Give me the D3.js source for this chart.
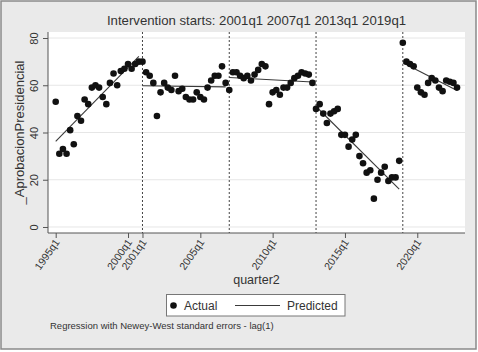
<!DOCTYPE html>
<html><head><meta charset="utf-8">
<script src="https://cdn.jsdelivr.net/npm/d3@7"></script>
<style>html,body{margin:0;padding:0;background:#fff;}svg{display:block;font-family:"Liberation Sans",Arial,sans-serif;}</style>
</head><body><svg id="c" width="478" height="352"></svg>
<script>
// ---- data ----
const firstYear = 1995; // first quarter = 1995q1
const actualSeg1 = [53,31,33,31,41,35,47,45,54,52,59,60,59,55,52,61,65,60,66,67,69,67,69,70];
const actualSeg2 = [70,65.5,64,61,47,57,61,59,58,64,57.5,58.5,55,54,54,57,55,54,59,62,64,64,68,61];
const actualSeg3 = [58,65.5,65.5,64,63,64,62,64.5,66.5,69,68,52,57,58,56,59,59,61,63,64,65.5,65,64.5,61];
const actualSeg4 = [50,52,48,44,48,49,50,39,39,34,37,39,30,27,23,24,12,20,23,25.5,19.5,21,21,28];
const actualSeg5 = [78,70,69,68,59,57,56,61,63,62,59,57.5,62,61.5,61,59];
const interventions = ["2001q1","2007q1","2013q1","2019q1"];
const predStart = [36.2,59.8,63.3,51,69.5];
const predEnd   = [72.2,59.3,61.4,16,57.8];
const xTickLabels = ["1995q1","2000q1","2001q1","2005q1","2010q1","2015q1","2020q1"];
const yTicks = [0,20,40,60,80];

const qIndex = s => (+s.slice(0,4) - firstYear)*4 + (+s.slice(5) - 1);
const qLabel = i => (firstYear + Math.floor(i/4)) + "q" + (i%4 + 1);
const actual = [].concat(actualSeg1, actualSeg2, actualSeg3, actualSeg4, actualSeg5);
const points = actual.map((v,i)=>({t:i, v}));
const bounds = [0].concat(interventions.map(qIndex), [actual.length]);
const predSegs = predStart.map((s,k)=>[{t:bounds[k], v:s},{t:bounds[k+1]-1, v:predEnd[k]}]);

// ---- layout ----
const svg = d3.select("#c");
const L=48, R=465, T=32, B=233;
const x = d3.scaleLinear().domain([-2.13, 113.2]).range([L,R]);
const y = d3.scaleLinear().domain([-2.54, 82.54]).range([B,T]);

svg.append("rect").attr("x",1).attr("y",1).attr("width",475).attr("height",348)
  .attr("fill","#eaeaea").attr("stroke","#8a8a8a").attr("stroke-width",1.5);
svg.append("rect").attr("x",L).attr("y",T).attr("width",R-L).attr("height",B-T).attr("fill","#fff");

// gridlines
svg.append("g").selectAll("line").data(yTicks).join("line")
  .attr("x1",L).attr("x2",R).attr("y1",d=>y(d)).attr("y2",d=>y(d))
  .attr("stroke","#e6e6e6").attr("stroke-width",1);

// axes
const yAxis = svg.append("g").attr("transform",`translate(${L},0)`)
  .call(d3.axisLeft(y).tickValues(yTicks).tickSize(5).tickFormat(d3.format("d")));
yAxis.select(".domain").attr("d",`M0,${T}V${B}`).attr("stroke","#555");
yAxis.selectAll(".tick line").attr("stroke","#555");
yAxis.selectAll(".tick text").attr("transform","rotate(-90)").attr("x",0).attr("y",-10.5)
  .attr("dy",0).attr("text-anchor","middle").attr("font-size",11).attr("fill","#333")
  .attr("font-family","Liberation Sans, Arial, sans-serif");

const xAxis = svg.append("g").attr("transform",`translate(0,${B})`)
  .call(d3.axisBottom(x).tickValues(xTickLabels.map(qIndex)).tickSize(5).tickFormat(qLabel));
xAxis.select(".domain").attr("d",`M${L},0H${R}`).attr("stroke","#555");
xAxis.selectAll(".tick line").attr("stroke","#555");
xAxis.selectAll(".tick text").attr("transform","translate(1,7) rotate(-55)").attr("x",0).attr("y",0)
  .attr("dy","0.35em").attr("text-anchor","end").attr("font-size",10.5).attr("fill","#333")
  .attr("font-family","Liberation Sans, Arial, sans-serif");

// intervention lines
svg.append("g").selectAll("line").data(interventions).join("line")
  .attr("x1",d=>x(qIndex(d))).attr("x2",d=>x(qIndex(d))).attr("y1",T).attr("y2",B)
  .attr("stroke","#444").attr("stroke-width",1).attr("stroke-dasharray","2,2");

// predicted lines
const line = d3.line().x(d=>x(d.t)).y(d=>y(d.v));
svg.append("g").selectAll("path").data(predSegs).join("path")
  .attr("d",line).attr("fill","none").attr("stroke","#3a3a3a").attr("stroke-width",1.1);

// actual points
svg.append("g").selectAll("circle").data(points).join("circle")
  .attr("cx",d=>x(d.t)).attr("cy",d=>y(d.v)).attr("r",3.3).attr("fill","#111");

// titles
svg.append("text").attr("x",(L+R)/2).attr("y",25).attr("text-anchor","middle")
  .attr("font-size",13.2).attr("fill","#333").text("Intervention starts: " + interventions.join(" "));
svg.append("text").attr("transform",`translate(24,${(T+B)/2}) rotate(-90)`).attr("text-anchor","middle")
  .attr("font-size",13).attr("fill","#333").text("_AprobacionPresidencial");
svg.append("text").attr("x",(L+R)/2).attr("y",284).attr("text-anchor","middle")
  .attr("font-size",12.5).attr("fill","#333").text("quarter2");

// legend
const lg = svg.append("g");
lg.append("rect").attr("x",166.5).attr("y",294.5).attr("width",178.5).attr("height",21.5)
  .attr("fill","#fff").attr("stroke","#777").attr("stroke-width",1);
lg.append("circle").attr("cx",173.5).attr("cy",305.5).attr("r",3.3).attr("fill","#111");
lg.append("text").attr("x",184).attr("y",309.8).attr("font-size",12).attr("fill","#333").text("Actual");
lg.append("line").attr("x1",235).attr("x2",280).attr("y1",305.5).attr("y2",305.5).attr("stroke","#3a3a3a").attr("stroke-width",1.1);
lg.append("text").attr("x",287).attr("y",309.8).attr("font-size",12).attr("fill","#333").text("Predicted");

// note
svg.append("text").attr("x",50).attr("y",329).attr("font-size",9.5).attr("fill","#333")
  .text("Regression with Newey-West standard errors - lag(1)");
</script></body></html>
